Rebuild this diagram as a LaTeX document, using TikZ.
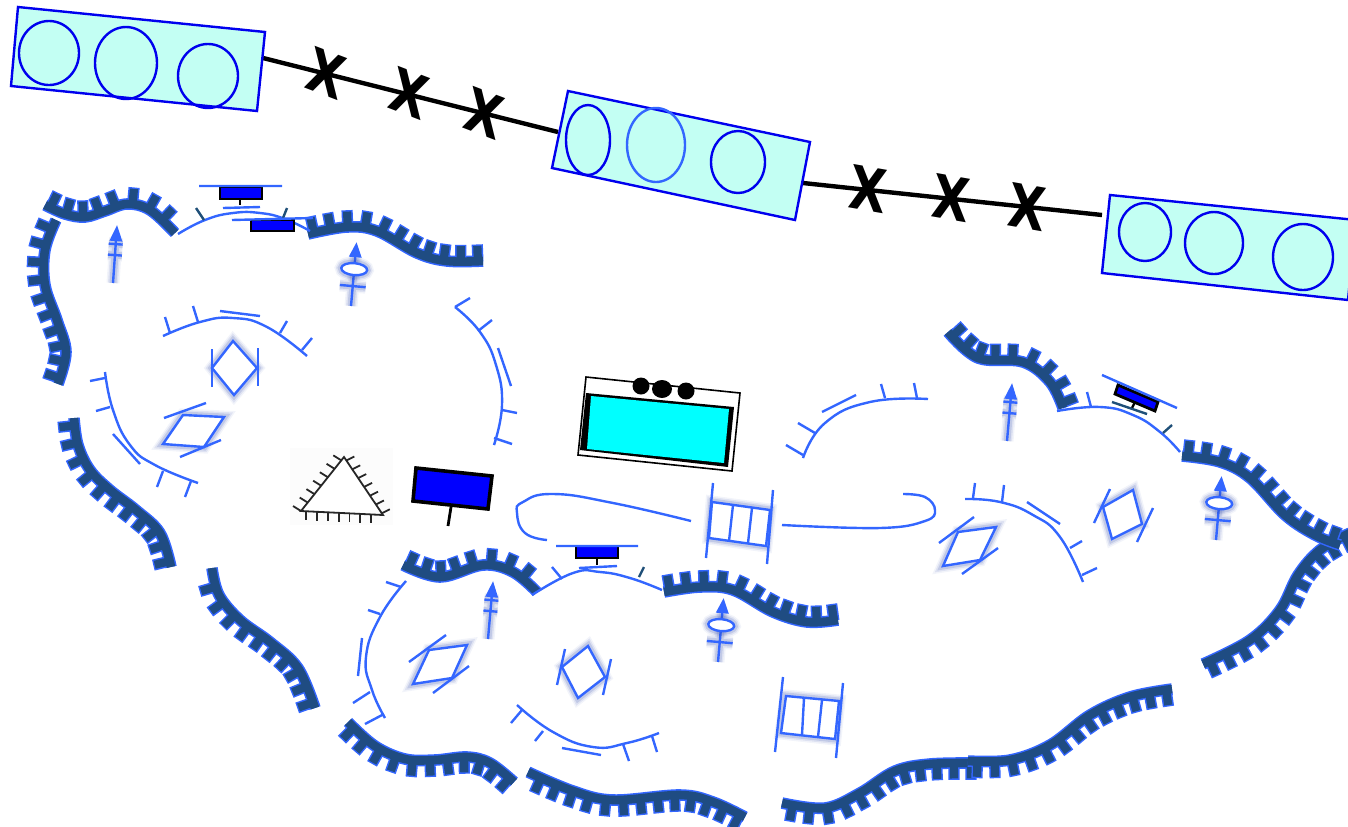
\documentclass[tikz,border=0pt]{standalone}
\usepackage{fontspec}
\setsansfont{DejaVu Sans}
\usetikzlibrary{calc, decorations.markings}

\definecolor{boxfill}{HTML}{C3FFF3}
\definecolor{boxblue}{HTML}{0000EE}
\definecolor{lineblue}{HTML}{3366FF}
\definecolor{glowblue}{HTML}{2A44A8}
\definecolor{walldark}{HTML}{1F4C82}
\definecolor{tickdark}{HTML}{1F4F78}
\definecolor{poolcyan}{HTML}{00FFFF}
\definecolor{signblue}{HTML}{0000FF}

\tikzset{
  carriage/.style={draw=boxblue, fill=boxfill, line width=1.2pt},
  wheel/.style={draw=boxblue, line width=1.2pt},
  track/.style={draw=black, line width=2.2pt},
  cross/.style={font=\fontsize{30}{32}\selectfont\sffamily\bfseries, xscale=.8, inner sep=0pt},
  curveline/.style={draw=lineblue, line width=1.2pt},
  darktick/.style={draw=tickdark, line width=1.2pt},
  glow/.style={
    preaction={draw=glowblue, line width=6.5pt, opacity=.06},
    preaction={draw=glowblue, line width=5pt, opacity=.1},
    preaction={draw=glowblue, line width=3.5pt, opacity=.16}},
  symbol/.style={curveline, glow, fill=white, line join=miter},
  post/.style={draw=black, fill=signblue, line width=1.4pt},
  outerteeth/.style={postaction={decorate, decoration={markings,
    mark=between positions 3pt and -2pt step 8.6pt with {
      \fill[lineblue] (-2.8pt,0pt) rectangle (2.8pt,8.4pt);}}}},
  innerteeth/.style={postaction={decorate, decoration={markings,
    mark=between positions 3pt and -2pt step 8.6pt with {
      \fill[walldark] (-2.05pt,0pt) rectangle (2.05pt,7.7pt);}}}},
  arrowmark/.pic={
    \draw[curveline, glow] (0,0) -- (0,-42) (-7,-39) -- (7,-39) (-7,-28) -- (7,-28);
    \fill[lineblue] (0,-58) -- (6.5,-42) -- (-6.5,-42) -- cycle;
  },
  ringmark/.pic={
    \draw[curveline, glow] (0,0) -- (0,-31) (-13,-20) -- (13,-20) (0,-43) -- (0,-49);
    \draw[symbol] (0,-37) ellipse [x radius=13, y radius=6];
    \fill[lineblue] (0,-64) -- (6.5,-49) -- (-6.5,-49) -- cycle;
  }
}

\newcommand{\wallcurve}[1]{
  \path[outerteeth] plot[smooth, tension=.6] coordinates {#1};
  \draw[lineblue, line width=5.8pt] plot[smooth, tension=.6] coordinates {#1};
  \draw[walldark, line width=4.3pt] plot[smooth, tension=.6] coordinates {#1};
  \path[innerteeth] plot[smooth, tension=.6] coordinates {#1};
}

\begin{document}
\begin{tikzpicture}[x=.5pt, y=-.5pt]
  \path[use as bounding box, clip] (0,0) rectangle (1348,826);

  % train
  \draw[track] (263,58) -- (558,132);
  \draw[track] (803,183) -- (1102,215);
  \node[cross, rotate=-17] (x1) at (326,73) {X};
  \node[cross, rotate=-17] (x2) at (409,93) {X};
  \node[cross, rotate=-17] (x3) at (484,113) {X};
  \node[cross, rotate=-8] (x4) at (868,189) {X};
  \node[cross, rotate=-8] (x5) at (951,198) {X};
  \node[cross, rotate=-8] (x6) at (1027,207) {X};

  \draw[carriage] (18,7) -- (265,32) -- (257,111) -- (11,86) -- cycle;
  \draw[wheel] (49,53) ellipse [x radius=30, y radius=32];
  \draw[wheel] (126,63) ellipse [x radius=31, y radius=36];
  \draw[wheel] (208,76) ellipse [x radius=30, y radius=32];

  \draw[carriage] (568,91) -- (810,142) -- (795,220) -- (552,168) -- cycle;
  \draw[wheel] (588,140) ellipse [x radius=22, y radius=35];
  \draw[lineblue, line width=1.2pt] (656,145) ellipse [x radius=29, y radius=37];
  \draw[wheel] (738,162) ellipse [x radius=27, y radius=31];

  \draw[carriage] (1110,195) -- (1356,220) -- (1348,300) -- (1102,273) -- cycle;
  \draw[wheel] (1145,232) ellipse [x radius=26, y radius=29];
  \draw[wheel] (1214,243) ellipse [x radius=29, y radius=31];
  \draw[wheel] (1303,257) ellipse [x radius=30, y radius=33];

  % walls
  \wallcurve{(45,205) (65,214) (85,217) (105,211) (127,204) (150,210) (175,233)}
  \wallcurve{(58,384) (66,352) (57,320) (45,285) (45,250) (56,220)}
  \wallcurve{(308,234) (347,227) (377,231) (417,253) (447,261) (483,261)}
  \wallcurve{(171,567) (160,533) (136,510) (110,490) (90,470) (78,445) (74,418)}
  \wallcurve{(315,708) (298,668) (270,642) (240,620) (219,595) (212,568)}
  \wallcurve{(514,782) (490,763) (467,757) (435,760) (405,759) (375,746) (348,722)}
  \wallcurve{(745,817) (713,802) (680,795) (613,800) (573,791) (528,772)}
  \wallcurve{(977,763) (930,764) (895,771) (860,793) (825,808) (782,803)}
  \wallcurve{(1172,689) (1130,697) (1090,715) (1050,745) (1010,760) (968,761)}
  \wallcurve{(1350,533) (1320,550) (1298,575) (1280,610) (1250,640) (1203,664)}
  \wallcurve{(1182,456) (1220,462) (1250,478) (1285,515) (1315,535) (1340,545)}
  \wallcurve{(948,332) (978,358) (1023,362) (1050,382) (1063,408)}
  \wallcurve{(403,565) (440,577) (483,565) (513,572) (537,592)}
  \wallcurve{(664,592) (700,587) (733,590) (773,612) (807,622) (838,620)}

  % thin curves and their ticks
  \draw[curveline] plot[smooth, tension=.8] coordinates {(178,234) (205,220) (233,213) (260,213) (285,219) (310,231)};
  \draw[darktick] (196,208) -- (204,220) (287,208) -- (283,218);
  \draw[curveline] plot[smooth, tension=.8] coordinates {(163,336) (200,322) (233,318) (267,327) (307,356)};
  \draw[curveline] (170,333) -- (165,317) (198,322) -- (193,306) (220,311) -- (260,316) (280,333) -- (287,321) (302,350) -- (312,338);
  \draw[curveline] plot[smooth, tension=.8] coordinates {(105,372) (113,410) (130,445) (155,465) (198,483)};
  \draw[curveline] (90,381) -- (105,378) (96,411) -- (110,407) (113,434) -- (140,464) (163,471) -- (157,487) (191,481) -- (185,497);
  \draw[curveline] plot[smooth, tension=.8] coordinates {(455,307) (480,332) (496,365) (502,405) (494,445)};
  \draw[curveline] (455,307) -- (470,298) (478,331) -- (492,320) (498,348) -- (511,386) (502,410) -- (517,413) (494,438) -- (512,444);
  \draw[curveline] plot[smooth, tension=.8] coordinates {(691,521) (613,503) (553,494) (523,502) (517,513) (525,533) (547,540)};
  \draw[curveline] plot[smooth, tension=.7] coordinates {(782,525) (880,528) (925,521) (935,510) (925,497) (903,494)};
  \draw[curveline] plot[smooth, tension=.8] coordinates {(803,458) (825,423) (870,402) (928,399)};
  \draw[curveline] (786,445) -- (803,455) (798,423) -- (815,433) (822,412) -- (856,395) (885,398) -- (881,384) (917,398) -- (914,383);
  \draw[curveline] plot[smooth, tension=.8] coordinates {(1057,411) (1100,407) (1133,415) (1160,432) (1180,452)};
  \draw[curveline] (1091,407) -- (1087,392);
  \draw[darktick] (1163,433) -- (1172,425);
  \draw[curveline] plot[smooth, tension=.8] coordinates {(965,499) (1000,502) (1033,515) (1060,537) (1083,582)};
  \draw[curveline] (973,498) -- (975,483) (1002,502) -- (1004,485) (1027,502) -- (1060,524) (1070,548) -- (1082,541) (1082,575) -- (1097,568);
  \draw[curveline] plot[smooth, tension=.8] coordinates {(532,595) (573,573) (600,572) (630,578) (662,590)};
  \draw[curveline] (562,579) -- (552,567);
  \draw[darktick] (639,577) -- (644,567);
  \draw[curveline] plot[smooth, tension=.8] coordinates {(406,581) (380,617) (366,657) (372,690) (385,718)};
  \draw[curveline] (386,582) -- (401,587) (368,610) -- (380,614) (362,638) -- (358,676) (370,692) -- (353,703) (384,714) -- (365,724);
  \draw[curveline] plot[smooth, tension=.8] coordinates {(517,705) (553,732) (593,747) (627,743) (659,733)};
  \draw[curveline] (522,710) -- (511,723) (543,731) -- (535,741) (562,748) -- (601,755) (623,744) -- (629,761) (652,736) -- (657,752);

  % small posts
  \draw[post] (220,187) rectangle (262,199);
  \draw[curveline] (199,186) -- (282,186) (223,208) -- (260,207);
  \draw[black, line width=1.2pt] (240,199) -- (240,205);
  \draw[post] (251,220) rectangle (294,231);
  \draw[curveline] (232,220) -- (313,218);
  \draw[post] (576,546) rectangle (618,558);
  \draw[curveline] (556,546) -- (638,546) (579,568) -- (617,566);
  \draw[black, line width=1.2pt] (597,558) -- (597,565);
  \draw[post] (1118,385) -- (1158,402) -- (1155,411) -- (1115,394) -- cycle;
  \draw[curveline] (1102,375) -- (1177,408);
  \draw[black, line width=1.2pt] (1135,402) -- (1132,408);
  \draw[darktick] (1112,402) -- (1147,414);

  % arrows
  \pic[rotate=-4] at (113,283) {arrowmark};
  \pic[rotate=-5] at (1007,441) {arrowmark};
  \pic[rotate=-5] at (488,639) {arrowmark};
  \pic[rotate=-5] at (351,306) {ringmark};
  \pic[rotate=-5] at (1216,540) {ringmark};
  \pic[rotate=-5] at (718,662) {ringmark};

  % diamonds
  \draw[symbol] (233,341) -- (257,368) -- (234,395) -- (212,368) -- cycle;
  \draw[curveline] (212,349) -- (212,387) (258,348) -- (258,386);
  \draw[symbol] (183,415) -- (224,417) -- (204,447) -- (163,444) -- cycle;
  \draw[curveline] (164,418) -- (206,403) (180,457) -- (221,440);
  \draw[symbol] (1103,507) -- (1133,490) -- (1142,524) -- (1112,539) -- cycle;
  \draw[curveline] (1110,489) -- (1094,523) (1153,508) -- (1137,542);
  \draw[symbol] (958,532) -- (996,527) -- (980,560) -- (943,566) -- cycle;
  \draw[curveline] (974,517) -- (939,543) (998,548) -- (962,574);
  \draw[symbol] (429,650) -- (467,645) -- (452,678) -- (413,684) -- cycle;
  \draw[curveline] (446,635) -- (409,662) (469,666) -- (433,693);
  \draw[symbol] (588,646) -- (605,677) -- (578,698) -- (562,667) -- cycle;
  \draw[curveline] (565,649) -- (557,685) (611,659) -- (603,695);

  % ladders
  \draw[symbol] (712,502) -- (770,510) -- (766,546) -- (709,538) -- cycle;
  \draw[curveline] (733,505) -- (729,541) (752,508) -- (748,543);
  \draw[curveline] (713,483) -- (706,558) (773,490) -- (767,564);
  \draw[symbol] (786,696) -- (839,701) -- (835,739) -- (781,733) -- cycle;
  \draw[curveline] (804,698) -- (802,735) (822,700) -- (818,737);
  \draw[curveline] (783,677) -- (775,752) (843,683) -- (836,758);

  % triangle
  \fill[black!1] (290,448) rectangle (393,525);
  \coordinate (tA) at (344,457);
  \coordinate (tB) at (383,515);
  \coordinate (tC) at (301,511);
  \draw[black!85, line width=.9pt, fill=white] (tA) -- (tB) -- (tC) -- cycle;
  \foreach \i in {0,...,6} {
    \draw[black!85, line width=.9pt] ($(tC)!\i/6.4!(tA)$) -- ++(-8,-5);
    \draw[black!85, line width=.9pt] ($(tA)!{(\i+.4)/6.6}!(tB)$) -- ++(8,-4);
    \draw[black!85, line width=.9pt] ($(tC)!{(\i+.5)/7.6}!(tB)$) -- ++(0,9);
  }

  % big sign
  \draw[black, fill=signblue, line width=1.8pt] (416,468) -- (492,476) -- (488,509) -- (413,501) -- cycle;
  \draw[black, line width=1.4pt] (451,507) -- (448,526);

  % pool
  \draw[black, fill=white, line width=.8pt] (586,377) -- (740,393) -- (732,471) -- (578,455) -- cycle;
  \fill[black] (586,393) -- (734,407) -- (728,467) -- (580,450) -- cycle;
  \fill[poolcyan] (591,396) -- (729,409) -- (724,463) -- (587,449) -- cycle;
  \fill[black] (641,386) circle (8.5);
  \fill[black] (662,389) ellipse [x radius=10, y radius=9];
  \fill[black] (686,391) circle (8.5);
\end{tikzpicture}
\end{document}
